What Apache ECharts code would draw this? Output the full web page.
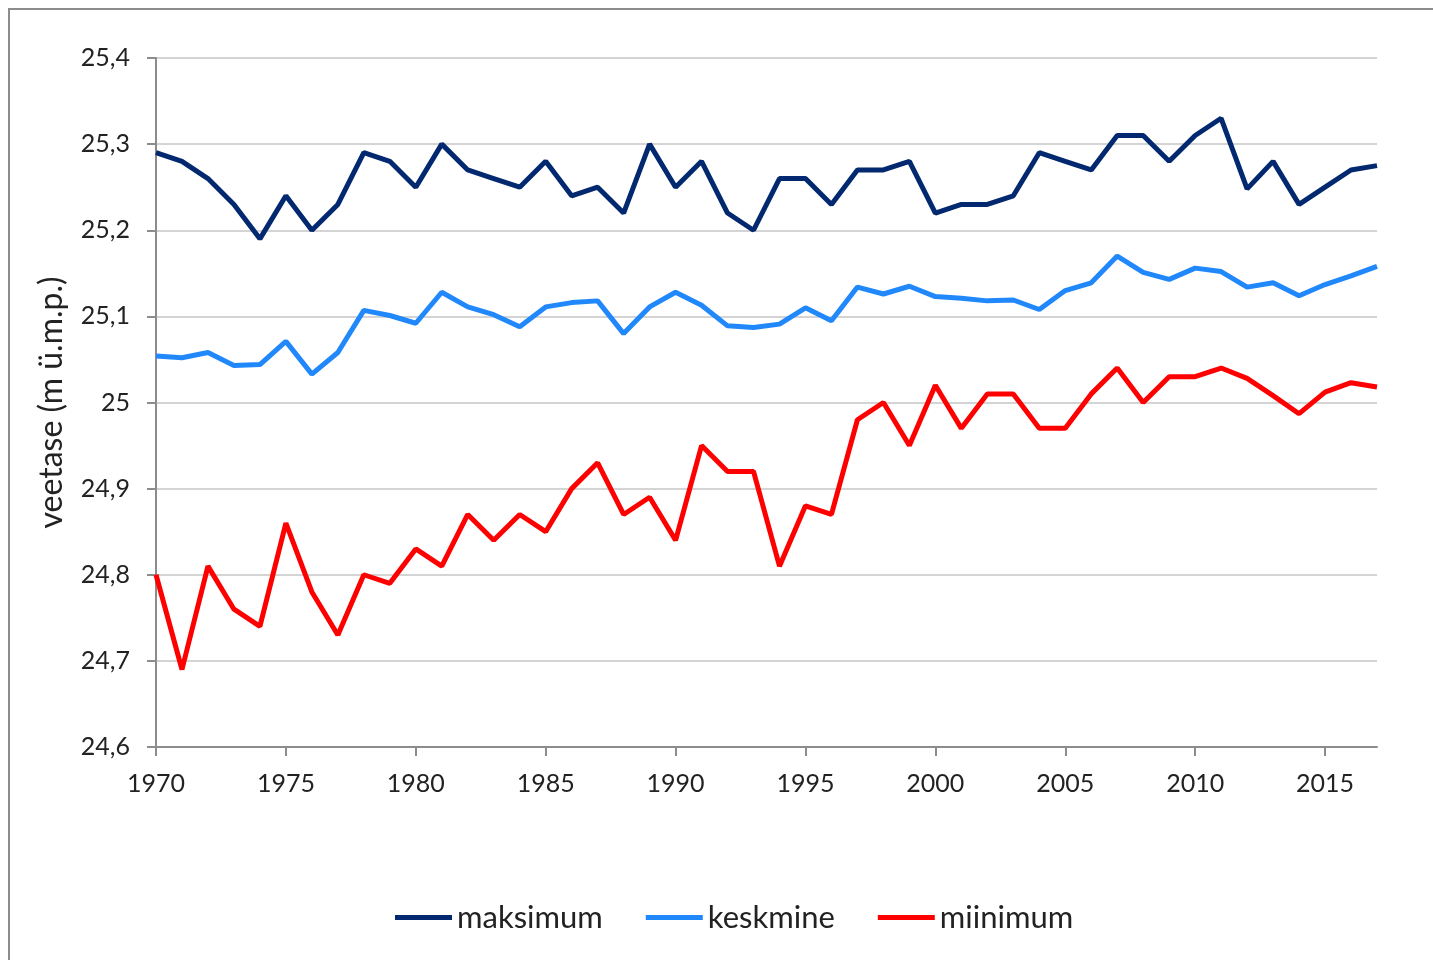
<!DOCTYPE html>
<html>
  <head>
    <meta charset="utf-8" />
    <title>veetase</title>
    <style type="text/css">
      html,
      body {
        width: 100%;
        height: 100%;
        margin: 0px;
        background: #fff;
        overflow: hidden;
      }

      #frame {
        position: absolute;
        left: 8px;
        top: 8px;
        width: 1600px;
        height: 1200px;
        border: 2px solid #8c8c8c;
      }

      #chart {
        position: absolute;
        left: 0px;
        top: 0px;
        width: 1433px;
        height: 960px;
      }
    </style>
    <script type="text/javascript" src="https://cdn.jsdelivr.net/npm/echarts@6/dist/echarts.min.js"></script>
  </head>

  <body>
    <div id="frame"></div>
    <div id="chart"></div>
    <script>
      const years = [];
      for (let y = 1970; y <= 2017; y++) {
        years.push(String(y));
      }

      const maksimum = [
        25.29, 25.28, 25.26, 25.23, 25.19, 25.24, 25.20, 25.23, 25.29, 25.28,
        25.25, 25.30, 25.27, 25.26, 25.25, 25.28, 25.24, 25.25, 25.22, 25.30,
        25.25, 25.28, 25.22, 25.20, 25.26, 25.26, 25.23, 25.27, 25.27, 25.28,
        25.22, 25.23, 25.23, 25.24, 25.29, 25.28, 25.27, 25.31, 25.31, 25.28,
        25.31, 25.33, 25.248, 25.28, 25.23, 25.25, 25.27, 25.275
      ];

      const keskmine = [
        25.054, 25.052, 25.058, 25.043, 25.044, 25.071, 25.033, 25.058, 25.107, 25.101,
        25.092, 25.128, 25.111, 25.102, 25.088, 25.111, 25.116, 25.118, 25.080, 25.111,
        25.128, 25.113, 25.089, 25.087, 25.091, 25.110, 25.095, 25.134, 25.126, 25.135,
        25.123, 25.121, 25.118, 25.119, 25.108, 25.130, 25.139, 25.170, 25.151, 25.143,
        25.156, 25.152, 25.134, 25.139, 25.124, 25.137, 25.147, 25.158
      ];

      const miinimum = [
        24.80, 24.69, 24.81, 24.76, 24.74, 24.86, 24.78, 24.73, 24.80, 24.79,
        24.83, 24.81, 24.87, 24.84, 24.87, 24.85, 24.90, 24.93, 24.87, 24.89,
        24.84, 24.95, 24.92, 24.92, 24.81, 24.88, 24.87, 24.98, 25.00, 24.95,
        25.02, 24.97, 25.01, 25.01, 24.97, 24.97, 25.01, 25.04, 25.00, 25.03,
        25.03, 25.04, 25.028, 25.008, 24.987, 25.012, 25.023, 25.018
      ];

      const seriesNames = ["maksimum", "keskmine", "miinimum"];
      const seriesColors = ["#02296f", "#2188fc", "#ff0000"];

      const font = "Lato, 'Open Sans', sans-serif";
      const chart = echarts.init(document.getElementById("chart"), null, {
        renderer: "canvas",
      });

      const option = {
        backgroundColor: "transparent",
        animation: false,
        grid: {
          left: 156,
          right: 56,
          top: 58,
          bottom: 213,
        },
        legend: {
          bottom: 22,
          left: 390,
          icon: "rect",
          itemWidth: 57,
          itemHeight: 5,
          itemGap: 43,
          textStyle: {
            color: "#222",
            fontSize: 31,
            fontFamily: font,
          },
          data: seriesNames,
        },
        xAxis: {
          type: "category",
          data: years,
          boundaryGap: false,
          axisLine: { lineStyle: { color: "#8c8c8c", width: 2 } },
          axisTick: {
            interval: 4,
            length: 9,
            lineStyle: { color: "#8c8c8c", width: 2 },
          },
          axisLabel: {
            interval: 4,
            margin: 24,
            color: "#222",
            fontSize: 25,
            fontFamily: font,
          },
          splitLine: { show: false },
        },
        yAxis: {
          type: "value",
          min: 24.6,
          max: 25.4,
          interval: 0.1,
          name: "veetase (m ü.m.p.)",
          nameLocation: "middle",
          nameGap: 88,
          nameTextStyle: {
            color: "#222",
            fontSize: 32,
            fontFamily: font,
          },
          axisLine: { show: true, lineStyle: { color: "#8c8c8c", width: 2 } },
          axisTick: {
            show: true,
            length: 9,
            lineStyle: { color: "#8c8c8c", width: 2 },
          },
          axisLabel: {
            margin: 26,
            color: "#222",
            fontSize: 25,
            fontFamily: font,
            formatter: function (v) {
              return String(Math.round(v * 10) / 10).replace(".", ",");
            },
          },
          splitLine: { lineStyle: { color: "#d4d4d4", width: 2 } },
        },
        series: [maksimum, keskmine, miinimum].map(function (d, i) {
          return {
            name: seriesNames[i],
            type: "line",
            data: d,
            showSymbol: false,
            symbol: "none",
            color: seriesColors[i],
            lineStyle: { color: seriesColors[i], width: 5 },
          };
        }),
      };

      chart.setOption(option);
    </script>
  </body>
</html>
